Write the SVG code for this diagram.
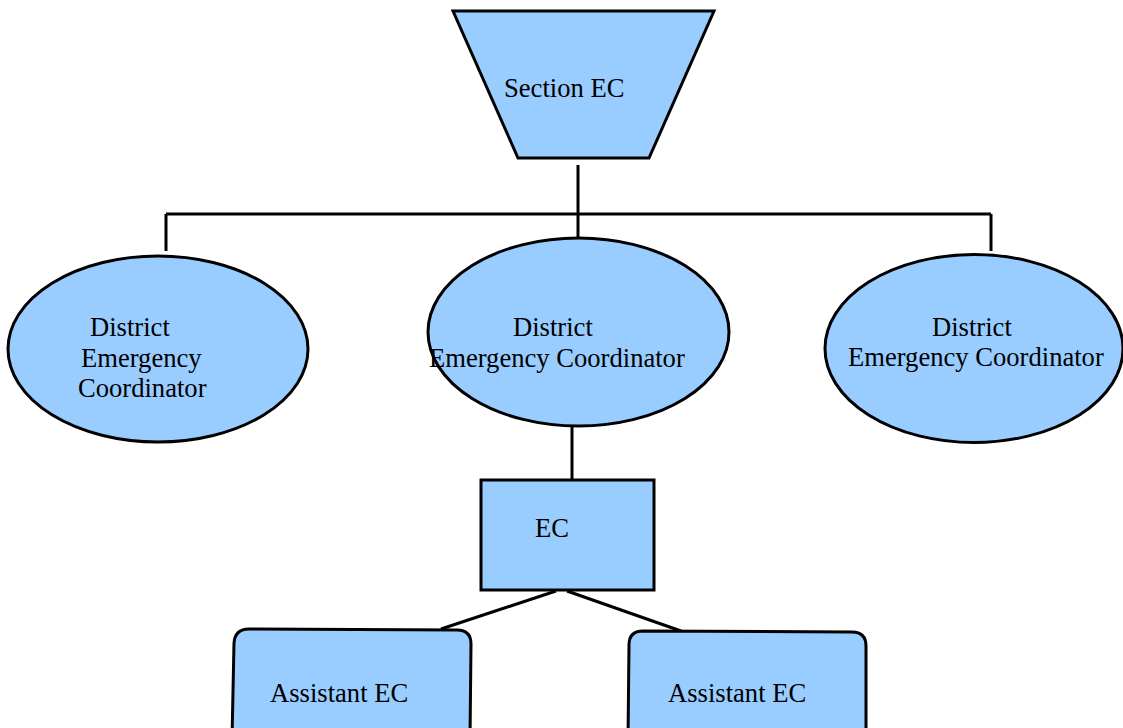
<svg xmlns="http://www.w3.org/2000/svg" width="1123" height="728" viewBox="0 0 1123 728">
<style>
.n{fill:#99ccff;stroke:#000;stroke-width:3}
.t{font-family:"Liberation Serif","Times New Roman",serif;font-size:26.6px;fill:#000}
.c{stroke:#000;stroke-width:3;fill:none}
</style>
<rect width="1123" height="728" fill="#fff"/>
<g id="connectors">
<line class="c" x1="578" y1="165" x2="578" y2="238"/>
<line class="c" x1="166" y1="214" x2="991" y2="214"/>
<line class="c" x1="166" y1="214" x2="166" y2="251"/>
<line class="c" x1="991" y1="214" x2="991" y2="251"/>
<line class="c" x1="572" y1="426" x2="572" y2="481"/>
<line class="c" x1="556" y1="591" x2="441" y2="629"/>
<line class="c" x1="567" y1="591" x2="681" y2="631"/>
</g>
<g id="section-ec">
<polygon class="n" points="453,11 714,11 649,158 518,158"/>
<text class="t" x="504" y="97">Section EC</text>
</g>
<g id="dec-left">
<ellipse class="n" cx="158" cy="349" rx="150" ry="93"/>
<text class="t" x="90" y="336">District</text>
<text class="t" x="81" y="367">Emergency</text>
<text class="t" x="78" y="397">Coordinator</text>
</g>
<g id="dec-middle">
<ellipse class="n" cx="578.5" cy="332" rx="150.5" ry="94"/>
<text class="t" x="513" y="336">District</text>
<text class="t" x="429" y="367">Emergency Coordinator</text>
</g>
<g id="dec-right">
<ellipse class="n" cx="974" cy="348.5" rx="149" ry="94"/>
<text class="t" x="932" y="336">District</text>
<text class="t" x="848" y="366">Emergency Coordinator</text>
</g>
<g id="ec">
<rect class="n" x="481" y="480" width="173" height="110"/>
<text class="t" x="535" y="537">EC</text>
</g>
<g id="aec-left">
<path class="n" d="M249,629 L457,630 Q471,630 471,644 L470,740 L232,740 L234,643 Q235,629 249,629 Z"/>
<text class="t" x="270" y="702">Assistant EC</text>
</g>
<g id="aec-right">
<path class="n" d="M643,631 L852,632 Q866,632 866,646 L866,740 L628,740 L629,645 Q629,631 643,631 Z"/>
<text class="t" x="668" y="702">Assistant EC</text>
</g>
</svg>
